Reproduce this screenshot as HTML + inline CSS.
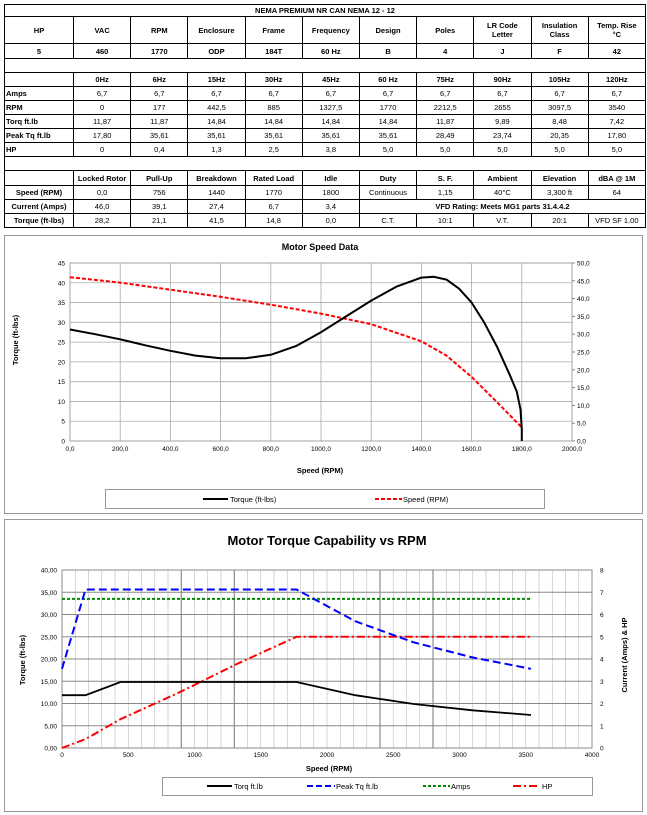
<!DOCTYPE html>
<html><head><meta charset="utf-8"><style>
body{margin:0;width:647px;height:815px;background:#fff;position:relative;overflow:hidden;font-family:"Liberation Sans",sans-serif}
table{position:absolute;left:4px;top:4px;width:641px;border-collapse:collapse;table-layout:fixed;font-size:7.5px;font-family:"Liberation Sans",sans-serif}
td{border:1px solid #000;text-align:center;padding:0;overflow:hidden;white-space:nowrap;line-height:9px}
.b td{font-weight:bold}
td.l{text-align:left;font-weight:bold;padding-left:1px}
svg{position:absolute;left:0;top:0}
</style></head><body>
<table>
<colgroup><col style="width:69px"><col span="10" style="width:57.2px"></colgroup>
<tr class="b" style="height:12px"><td colspan="11">NEMA PREMIUM NR CAN NEMA 12 - 12</td></tr>
<tr class="b" style="height:27px"><td>HP</td><td>VAC</td><td>RPM</td><td>Enclosure</td><td>Frame</td><td>Frequency</td><td>Design</td><td>Poles</td><td>LR Code<br>Letter</td><td>Insulation<br>Class</td><td>Temp. Rise<br>°C</td></tr>
<tr class="b" style="height:15px"><td>5</td><td>460</td><td>1770</td><td>ODP</td><td>184T</td><td>60 Hz</td><td>B</td><td>4</td><td>J</td><td>F</td><td>42</td></tr>
<tr style="height:14px"><td colspan="11"></td></tr>
<tr class="b" style="height:14px"><td></td><td>0Hz</td><td>6Hz</td><td>15Hz</td><td>30Hz</td><td>45Hz</td><td>60 Hz</td><td>75Hz</td><td>90Hz</td><td>105Hz</td><td>120Hz</td></tr>
<tr style="height:14px"><td class="l">Amps</td><td>6,7</td><td>6,7</td><td>6,7</td><td>6,7</td><td>6,7</td><td>6,7</td><td>6,7</td><td>6,7</td><td>6,7</td><td>6,7</td></tr>
<tr style="height:14px"><td class="l">RPM</td><td>0</td><td>177</td><td>442,5</td><td>885</td><td>1327,5</td><td>1770</td><td>2212,5</td><td>2655</td><td>3097,5</td><td>3540</td></tr>
<tr style="height:14px"><td class="l">Torq ft.lb</td><td>11,87</td><td>11,87</td><td>14,84</td><td>14,84</td><td>14,84</td><td>14,84</td><td>11,87</td><td>9,89</td><td>8,48</td><td>7,42</td></tr>
<tr style="height:14px"><td class="l">Peak Tq ft.lb</td><td>17,80</td><td>35,61</td><td>35,61</td><td>35,61</td><td>35,61</td><td>35,61</td><td>28,49</td><td>23,74</td><td>20,35</td><td>17,80</td></tr>
<tr style="height:14px"><td class="l">HP</td><td>0</td><td>0,4</td><td>1,3</td><td>2,5</td><td>3,8</td><td>5,0</td><td>5,0</td><td>5,0</td><td>5,0</td><td>5,0</td></tr>
<tr style="height:14px"><td colspan="11"></td></tr>
<tr style="height:15px"><td></td><td><b>Locked Rotor</b></td><td><b>Pull-Up</b></td><td><b>Breakdown</b></td><td><b>Rated Load</b></td><td><b>Idle</b></td><td><b>Duty</b></td><td><b>S. F.</b></td><td><b>Ambient</b></td><td><b>Elevation</b></td><td><b>dBA @ 1M</b></td></tr>
<tr style="height:14px"><td><b>Speed (RPM)</b></td><td>0,0</td><td>756</td><td>1440</td><td>1770</td><td>1800</td><td>Continuous</td><td>1,15</td><td>40°C</td><td>3,300 ft</td><td>64</td></tr>
<tr style="height:14px"><td><b>Current (Amps)</b></td><td>46,0</td><td>39,1</td><td>27,4</td><td>6,7</td><td>3,4</td><td colspan="5"><b>VFD Rating: Meets MG1 parts 31.4.4.2</b></td></tr>
<tr style="height:14px"><td><b>Torque (ft-lbs)</b></td><td>28,2</td><td>21,1</td><td>41,5</td><td>14,8</td><td>0,0</td><td>C.T.</td><td>10:1</td><td>V.T.</td><td>20:1</td><td>VFD SF 1.00</td></tr>
</table>

<svg id="s" width="647" height="815" font-family="Liberation Sans, sans-serif">
<rect x="4.5" y="235.5" width="638" height="278" fill="none" stroke="#999"/>
<text x="320" y="250" font-size="9" font-weight="bold" text-anchor="middle">Motor Speed Data</text>
<text transform="translate(18,340) rotate(-90)" font-size="7.5" font-weight="bold" text-anchor="middle">Torque (ft-lbs)</text>
<text x="320" y="473" font-size="7.5" font-weight="bold" text-anchor="middle">Speed (RPM)</text>
<rect x="105.5" y="489.5" width="439" height="19" fill="#fff" stroke="#999"/>
<line x1="203" y1="499" x2="228" y2="499" stroke="#000" stroke-width="2"/>
<text x="230" y="502" font-size="7.5">Torque (ft-lbs)</text>
<line x1="375" y1="499" x2="402" y2="499" stroke="#f00" stroke-width="2" stroke-dasharray="4,2"/>
<text x="403" y="502" font-size="7.5">Speed (RPM)</text>

<rect x="4.5" y="519.5" width="638" height="292" fill="none" stroke="#999"/>
<text x="327" y="545" font-size="13" font-weight="bold" text-anchor="middle">Motor Torque Capability vs RPM</text>
<text transform="translate(25,660) rotate(-90)" font-size="7.5" font-weight="bold" text-anchor="middle">Torque (ft-lbs)</text>
<text transform="translate(627,655) rotate(-90)" font-size="7.5" font-weight="bold" text-anchor="middle">Current (Amps) &amp; HP</text>
<text x="329" y="771" font-size="7.5" font-weight="bold" text-anchor="middle">Speed (RPM)</text>
<rect x="162.5" y="777.5" width="430" height="18" fill="#fff" stroke="#999"/>
<line x1="207" y1="786" x2="232" y2="786" stroke="#000" stroke-width="2"/>
<text x="234" y="789" font-size="7.5">Torq ft.lb</text>
<line x1="307" y1="786" x2="335" y2="786" stroke="#00f" stroke-width="2" stroke-dasharray="6,3"/>
<text x="336" y="789" font-size="7.5">Peak Tq ft.lb</text>
<line x1="423" y1="786" x2="450" y2="786" stroke="#080" stroke-width="2" stroke-dasharray="3,2"/>
<text x="451" y="789" font-size="7.5">Amps</text>
<line x1="513" y1="786" x2="540" y2="786" stroke="#f00" stroke-width="2" stroke-dasharray="8,3,2,3"/>
<text x="542" y="789" font-size="7.5">HP</text>
</svg>
<script>
// Chart 1 data
const c1TorqueRpm = [0,100,200,300,400,500,600,700,800,900,1000,1100,1200,1300,1400,1450,1500,1550,1600,1650,1700,1750,1780,1795,1800,1800];
const c1TorqueVal = [28.2,27,25.7,24.2,22.8,21.6,20.9,20.9,21.8,24,27.5,31.5,35.5,39,41.3,41.5,40.8,38.5,35,30,24,17,12.5,8,3,0];
const c1SpeedRpm = [0,200,400,600,800,1000,1200,1400,1500,1600,1700,1800];
const c1SpeedVal = [46,44.5,42.5,40.5,38.3,35.8,32.8,28,24,18,11,3.8];
const c1XTicks = ["0,0","200,0","400,0","600,0","800,0","1000,0","1200,0","1400,0","1600,0","1800,0","2000,0"];
const c1YTicks = ["0","5","10","15","20","25","30","35","40","45"];
const c1Y2Ticks = ["0,0","5,0","10,0","15,0","20,0","25,0","30,0","35,0","40,0","45,0","50,0"];
// Chart 2 data
const c2Rpm = [0,177,442.5,885,1327.5,1770,2212.5,2655,3097.5,3540];
const c2Torq = [11.87,11.87,14.84,14.84,14.84,14.84,11.87,9.89,8.48,7.42];
const c2Peak = [17.80,35.61,35.61,35.61,35.61,35.61,28.49,23.74,20.35,17.80];
const c2Amps = [6.7,6.7,6.7,6.7,6.7,6.7,6.7,6.7,6.7,6.7];
const c2Hp = [0,0.4,1.3,2.5,3.8,5.0,5.0,5.0,5.0,5.0];
const c2XTicks = ["0","500","1000","1500","2000","2500","3000","3500","4000"];
const c2YTicks = ["0,00","5,00","10,00","15,00","20,00","25,00","30,00","35,00","40,00"];
const c2Y2Ticks = ["0","1","2","3","4","5","6","7","8"];

const s = document.getElementById('s');
const NS = 'http://www.w3.org/2000/svg';
function mk(tag, attrs, parent){const e=document.createElementNS(NS,tag);for(const k in attrs)e.setAttribute(k,attrs[k]);(parent||s).appendChild(e);return e;}
function txt(x,y,t,anchor,size){const e=mk('text',{x:x,y:y,'font-size':size||7,'text-anchor':anchor});e.textContent=t;return e;}
function path(xs,ys,fx,fy){return xs.map((v,i)=>(i?'L':'M')+fx(v).toFixed(1)+','+fy(ys[i]).toFixed(1)).join(' ');}

// Chart 1
const L1=70,R1=572,T1=263,B1=441;
const x1=v=>L1+v/2000*(R1-L1), y1=v=>B1-v/45*(B1-T1), y1r=v=>B1-v/50*(B1-T1);
const bg1=mk('rect',{x:L1,y:T1,width:R1-L1,height:B1-T1,fill:'#fff',stroke:'#888'});


c1XTicks.forEach((t,i)=>{const v=i*200;mk('line',{x1:x1(v),x2:x1(v),y1:T1,y2:B1,stroke:'#aaa','stroke-width':0.8});const e=txt(x1(v),451,t,'middle',6.5);});
c1YTicks.forEach((t,i)=>{const v=i*5;mk('line',{x1:L1,x2:R1,y1:y1(v),y2:y1(v),stroke:'#aaa','stroke-width':0.8});const e=txt(L1-5,y1(v)+2.5,t,'end',6.5);});
c1Y2Ticks.forEach((t,i)=>{const v=i*5;mk('line',{x1:R1,x2:R1+3,y1:y1r(v),y2:y1r(v),stroke:'#888'});const e=txt(R1+5,y1r(v)+2.5,t,'start',6.5);});
const sp=mk('path',{d:path(c1SpeedRpm,c1SpeedVal,x1,y1r),fill:'none',stroke:'#f00','stroke-width':2,'stroke-dasharray':'4,2'});


const tq=mk('path',{d:path(c1TorqueRpm,c1TorqueVal,x1,y1),fill:'none',stroke:'#000','stroke-width':2,'stroke-linejoin':'round'});



// Chart 2
const L2=62,R2=592,T2=570,B2=748;
const x2=v=>L2+v/4000*(R2-L2), y2=v=>B2-v/40*(B2-T2), y2r=v=>B2-v/8*(B2-T2);
const bg2=mk('rect',{x:L2,y:T2,width:R2-L2,height:B2-T2,fill:'#fff',stroke:'#888'});


for(let v=100;v<4000;v+=100){const dark=[900,1300,2400,2800].includes(v);mk('line',{x1:x2(v),x2:x2(v),y1:T2,y2:B2,stroke:dark?'#777':'#bbb','stroke-width':dark?1:0.6});}
c2YTicks.forEach((t,i)=>{const v=i*5;mk('line',{x1:L2,x2:R2,y1:y2(v),y2:y2(v),stroke:'#888','stroke-width':0.9});const e=txt(L2-5,y2(v)+2.5,t,'end',6.5);});
c2XTicks.forEach((t,i)=>{const v=i*500;const e=txt(x2(v),757,t,'middle',6.5);});
c2Y2Ticks.forEach((t,i)=>{const v=i;const e=txt(R2+8,y2r(v)+2.5,t,'start',6.5);});
const am=mk('path',{d:path(c2Rpm,c2Amps,x2,y2r),fill:'none',stroke:'#080','stroke-width':2,'stroke-dasharray':'3,2'});


const hp=mk('path',{d:path(c2Rpm,c2Hp,x2,y2r),fill:'none',stroke:'#f00','stroke-width':2,'stroke-dasharray':'8,3,2,3'});


const pk=mk('path',{d:path(c2Rpm,c2Peak,x2,y2),fill:'none',stroke:'#00f','stroke-width':2,'stroke-dasharray':'8,4'});


const tr=mk('path',{d:path(c2Rpm,c2Torq,x2,y2),fill:'none',stroke:'#000','stroke-width':1.8});


// bring legends on top
['speed-legend','capability-legend'].forEach(()=>{});
</script>
</body></html>
